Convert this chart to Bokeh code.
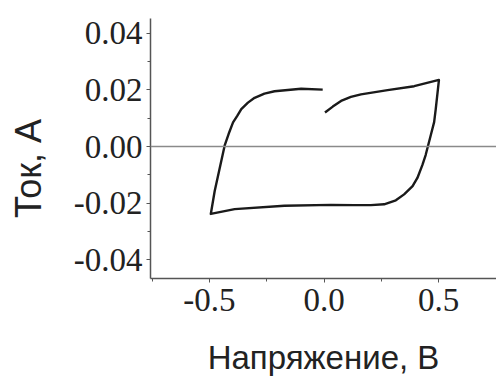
from bokeh.plotting import figure
from bokeh.models import Range1d, Span, FixedTicker, PrintfTickFormatter
from bokeh.embed import file_html
from bokeh.resources import INLINE

# Hysteresis loop, traced in order
voltage = [-0.006, -0.100, -0.216, -0.260, -0.303, -0.332, -0.361, -0.378, -0.397, -0.416, -0.433,
           -0.455, -0.477, -0.494,
           -0.390, -0.173, 0.030, 0.132, 0.204, 0.262, 0.313, 0.349, 0.386, 0.407, 0.429, 0.443,
           0.465, 0.480, 0.487, 0.501,
           0.393, 0.277, 0.161, 0.117, 0.074, 0.038, 0.004]
current = [0.0201, 0.0204, 0.0195, 0.0187, 0.0172, 0.0155, 0.0132, 0.0109, 0.0085, 0.0045, 0.0005,
           -0.0076, -0.0157, -0.0238,
           -0.0221, -0.0209, -0.0206, -0.0207, -0.0207, -0.0204, -0.0190, -0.0169, -0.0140, -0.0111, -0.0065, -0.0030,
           0.0039, 0.0086, 0.0132, 0.0235,
           0.0213, 0.0199, 0.0184, 0.0175, 0.0161, 0.0141, 0.0120]

x_ticks = [-0.5, 0.0, 0.5]
x_minor = [-0.75, -0.25, 0.25, 0.75]
y_ticks = [-0.04, -0.02, 0.0, 0.02, 0.04]
y_minor = [-0.03, -0.01, 0.01, 0.03]

x_label = "Напряжение, В"
y_label = "Ток, А"

p = figure(width=496, height=378, output_backend="svg", toolbar_location=None,
           x_range=Range1d(-0.757, 0.752), y_range=Range1d(-0.0466, 0.0452),
           min_border_left=150, min_border_right=0, min_border_top=18, min_border_bottom=95)
p.outline_line_color = None
p.xgrid.visible = False
p.ygrid.visible = False
p.background_fill_color = "white"

p.add_layout(Span(location=0, dimension="width", line_color="#8a8a8a", line_width=1.5))
p.line(voltage, current, line_color="#1a1a1a", line_width=2.4, line_join="round")

for ax in (p.xaxis[0], p.yaxis[0]):
    ax.axis_line_color = "#555555"
    ax.axis_line_width = 1.5
    ax.major_tick_line_color = "#555555"
    ax.minor_tick_line_color = "#555555"
    ax.major_tick_in = 0
    ax.major_tick_out = 4
    ax.minor_tick_in = 0
    ax.minor_tick_out = 3
    ax.major_label_text_font = "Liberation Serif"
    ax.major_label_text_font_size = "33px"
    ax.major_label_text_color = "#222222"
    ax.axis_label_text_font = "Liberation Sans"
    ax.axis_label_text_font_style = "normal"
    ax.axis_label_text_color = "#222222"

p.xaxis.ticker = FixedTicker(ticks=x_ticks, minor_ticks=x_minor)
p.yaxis.ticker = FixedTicker(ticks=y_ticks, minor_ticks=y_minor)
p.xaxis.formatter = PrintfTickFormatter(format="%.1f")
p.yaxis.formatter = PrintfTickFormatter(format="%.2f")
p.xaxis.major_label_standoff = 6
p.yaxis.major_label_standoff = 4

p.xaxis.axis_label = x_label
# trailing no-break spaces shift the rotated title down, as in the original
p.yaxis.axis_label = y_label + "\u00a0\u00a0\u00a0\u00a0"
p.xaxis.axis_label_text_font_size = "33px"
p.yaxis.axis_label_text_font_size = "36px"
p.xaxis.axis_label_standoff = 25
p.yaxis.axis_label_standoff = 22

open("out.html", "w").write(file_html(p, INLINE))
